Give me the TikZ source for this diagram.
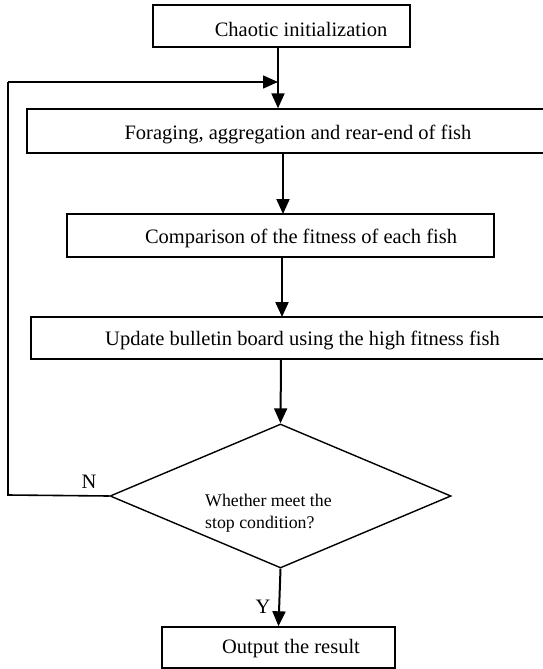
\documentclass[tikz,border=0pt]{standalone}
\usepackage{fontspec}
\setmainfont{Liberation Serif}
\usetikzlibrary{arrows.meta,shapes.geometric}
\begin{document}
\begin{tikzpicture}[x=1pt,y=-1pt,
  box/.style={draw,line width=1.4pt,rectangle,inner sep=0pt},
  txt/.style={inner sep=0pt,font=\fontsize{20.5}{23}\selectfont},
  small/.style={inner sep=0pt,font=\fontsize{17.8}{22}\selectfont,align=left},
  flow/.style={line width=2pt,-{Triangle[length=15pt,width=13pt]}},
  loopline/.style={line width=1.6pt}]
\useasboundingbox (0,0) rectangle (543,669);
\clip (0,0) rectangle (543,669);
\fill[white] (0,0) rectangle (543,669);
% boxes
\node[box,minimum width=257pt,minimum height=42pt] (b1) at (281.5,26) {};
\node[txt] (t1) at (301,29) {Chaotic initialization};
\node[box,minimum width=533pt,minimum height=44pt] (b2) at (293.5,131) {};
\node[txt] (t2) at (298,134) {Foraging, aggregation and rear-end of fish};
\node[box,minimum width=427pt,minimum height=43pt] (b3) at (280.5,235.5) {};
\node[txt] (t3) at (301,238) {Comparison of the fitness of each fish};
\node[box,minimum width=529pt,minimum height=42pt] (b4) at (295.5,338) {};
\node[txt] (t4) at (302.5,340) {Update bulletin board using the high fitness fish};
\node[draw,line width=1.4pt,diamond,inner sep=0pt,minimum width=341pt,minimum height=144pt] (d) at (280.5,496) {};
\node[small,anchor=west] (td) at (205,513) {Whether meet the\\stop condition?};
\node[box,minimum width=233pt,minimum height=41pt] (b5) at (278.5,647.5) {};
\node[txt] (t5) at (291,649) {Output the result};
% labels
\node[txt] (n) at (89,482) {N};
\node[txt] (y) at (263,607) {Y};
% connectors
\coordinate (m) at (278,82);
\coordinate (c1) at (8,495);
\draw[flow] (b1.south -| m) -- (b2.north -| m);
\draw[loopline] (d.west) -- (c1) -- (c1 |- m);
\draw[flow,line width=1.6pt] (c1 |- m) -- (m);
\draw[flow] (283,153) -- (283,214);
\draw[flow] (282,257) -- (282,317);
\draw[flow] (281,359) -- (d.north);
\draw[flow] (d.south) -- (b5.north);
\end{tikzpicture}
\end{document}
